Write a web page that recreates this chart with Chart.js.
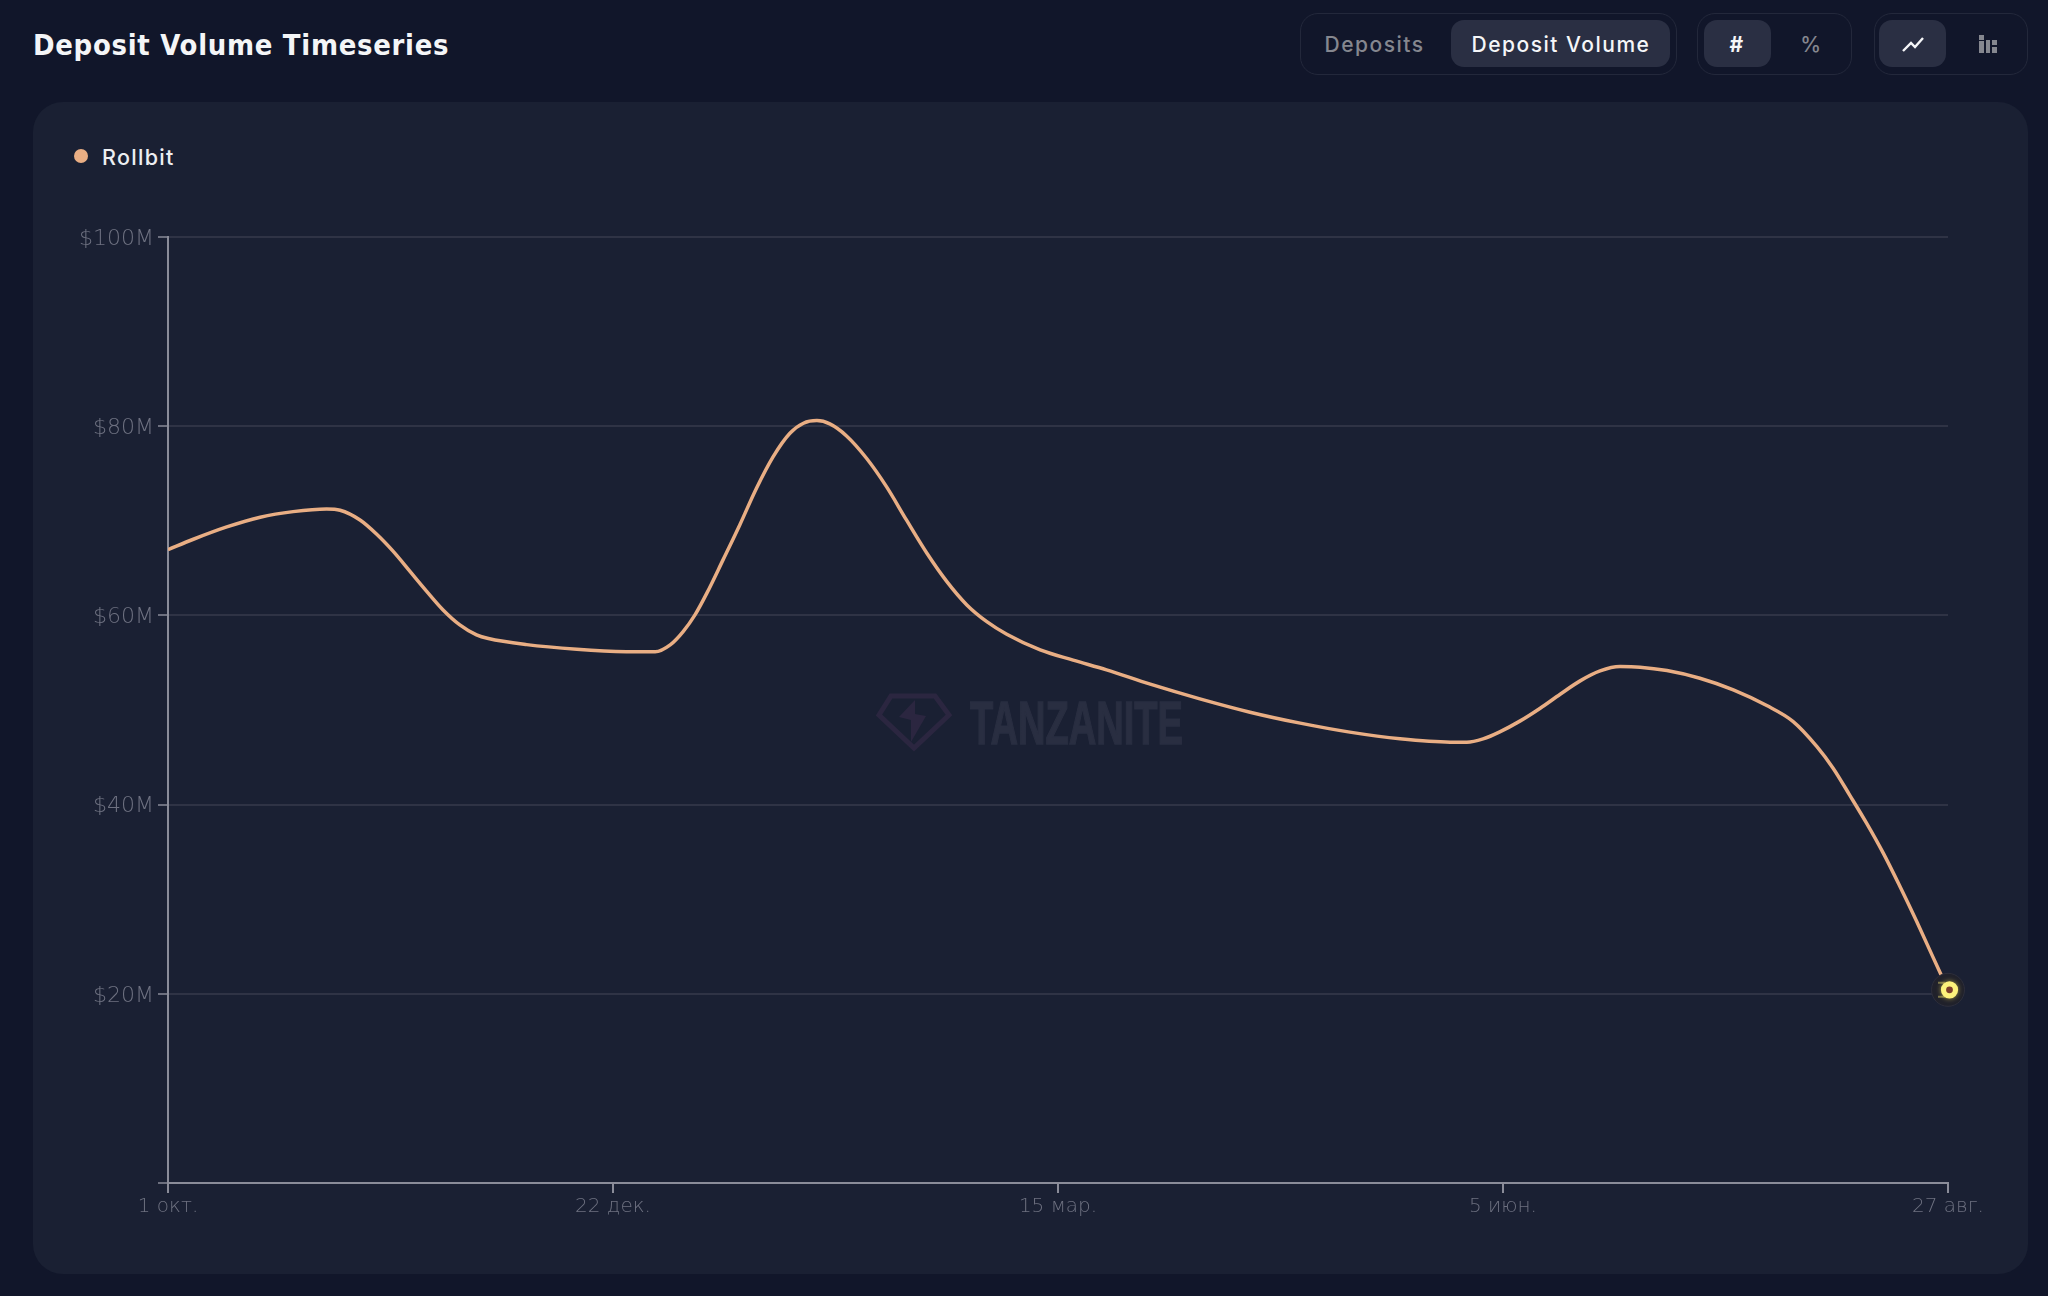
<!DOCTYPE html>
<html lang="ru">
<head>
<meta charset="utf-8">
<title>Deposit Volume Timeseries</title>
<script src="https://cdn.jsdelivr.net/npm/chart.js@4"></script>
<style>
html,body{margin:0;padding:0;background:#11162a;width:2048px;height:1296px;overflow:hidden;font-family:Inter,"Noto Sans",sans-serif;}
.abs{position:absolute;box-sizing:border-box;}
#title{left:33px;top:27px;font-size:27.5px;line-height:36px;font-weight:700;color:#f4f5f7;letter-spacing:.75px;white-space:nowrap;font-family:"DejaVu Sans";transform-origin:left center;transform:scaleX(.945);}
#card{left:33px;top:102px;width:1995px;height:1172px;background:#1a2033;border-radius:30px;}
.group{border:1.5px solid #23283b;border-radius:18px;top:13px;height:62px;}
.btn{top:20px;height:47px;border-radius:13px;background:#2a2f43;}
.txt{top:21px;height:47px;line-height:47px;font-size:21px;text-align:center;white-space:nowrap;color:#85878f;font-weight:500;letter-spacing:1.5px;transform:translateX(-50%);}
.on{color:#f5f6f8;}
#rollbit{left:102px;top:142px;line-height:30px;font-size:21.5px;font-weight:500;color:#eceef2;letter-spacing:1.3px;}
#dot{left:74px;top:149px;width:14px;height:14px;border-radius:50%;background:#e9ae84;}
#wm{left:970px;top:692px;font-family:"Liberation Sans Narrow","Liberation Sans";font-weight:700;font-size:62px;line-height:62px;color:#292e41;-webkit-text-stroke:1.5px #292e41;transform-origin:left top;white-space:nowrap;}
canvas{position:absolute;left:0;top:0;}
</style>
</head>
<body>
<div id="card" class="abs"></div>
<div id="title" class="abs">Deposit Volume Timeseries</div>

<div class="abs group" style="left:1300px;width:377px"></div>
<div class="abs btn" style="left:1451px;width:219px"></div>
<div class="abs txt" style="left:1374.5px">Deposits</div>
<div class="abs txt on" style="left:1561px">Deposit Volume</div>

<div class="abs group" style="left:1697px;width:155px"></div>
<div class="abs btn" style="left:1704px;width:67px"></div>
<div class="abs txt on" style="left:1737px;font-weight:700">#</div>
<div class="abs txt" style="left:1811.5px">%</div>

<div class="abs group" style="left:1874px;width:154px"></div>
<div class="abs btn" style="left:1879px;width:67px"></div>
<svg class="abs" style="left:1901px;top:35px" width="24" height="18" viewBox="0 0 24 18"><path d="M2 16 L10 8 L14 12 L22 3" fill="none" stroke="#f5f6f8" stroke-width="2.4"/></svg>
<svg class="abs" style="left:1978px;top:34px" width="20" height="20" viewBox="0 0 20 20" fill="#85878f"><rect x="1" y="1" width="5" height="5"/><rect x="1" y="7" width="5" height="12"/><rect x="8" y="6" width="4" height="13"/><rect x="14" y="6" width="5" height="5"/><rect x="14" y="13" width="5" height="6"/></svg>

<div id="dot" class="abs"></div>
<div id="rollbit" class="abs">Rollbit</div>

<svg class="abs" style="left:875px;top:692px" width="78" height="60" viewBox="0 0 78 60">
  <path d="M16 4 H60 L74 23 L39 56 L4 23 Z" fill="none" stroke="#2b2640" stroke-width="5"/>
  <path d="M40 8 L24 25 L36 28 L36 50 L51 24 L40 22 Z" fill="#2b2640"/>
</svg>
<div id="wm" class="abs">TANZANITE</div>

<canvas id="chart" width="2048" height="1296"></canvas>

<script>
const seriesName = "Rollbit";
const dayOffsets = [0,4.7,10.9,17.1,23.2,29.4,31.9,35.6,38.7,41.8,44.9,48.0,51.0,54.1,57.2,59.4,66.5,75.8,85.0,90.3,93.1,95.5,97.7,99.9,102.9,106.0,109.1,112.2,115.3,117.8,120.3,122.7,125.8,129.5,133.2,136.9,140.7,144.4,148.1,151.8,155.5,161.7,167.8,174.0,182.1,191.3,200.6,209.9,219.1,228.4,237.7,240.8,243.8,246.9,250.7,254.4,258.1,261.8,265.5,269.2,272.9,277.9,284.0,290.2,296.4,301.3,305.7,308.7,311.8,314.9,318.0,321.1,324.2,327.3,330];
const volumeMillions = [66.95,68.05,69.35,70.38,70.97,71.25,71.12,70.09,68.58,66.74,64.63,62.52,60.58,59.0,57.94,57.55,56.91,56.43,56.17,56.15,56.88,58.29,60.05,62.35,65.87,69.56,73.44,76.78,79.25,80.31,80.59,80.24,78.97,76.61,73.61,70.09,66.57,63.57,61.11,59.34,58.01,56.35,55.27,54.24,52.73,51.18,49.77,48.61,47.66,46.95,46.60,46.60,46.95,47.69,48.85,50.19,51.67,53.08,54.13,54.59,54.53,54.17,53.36,52.13,50.47,48.78,46.13,43.85,40.98,38.04,34.87,31.34,27.64,23.77,20.42];
const xTickDays = [0,82.5,165,247.5,330];
const xTickLabels = ["1 окт.","22 дек.","15 мар.","5 июн.","27 авг."];
const yTickValues = [0,20,40,60,80,100];
const yTickLabels = ["","$20M","$40M","$60M","$80M","$100M"];

const endMarker = {
  id: "endMarker",
  afterDatasetsDraw(chart) {
    const pts = chart.getDatasetMeta(0).data;
    const p = pts[pts.length - 1];
    const c = chart.ctx;
    c.save();
    c.beginPath(); c.arc(p.x, p.y, 16.5, 0, Math.PI * 2);
    c.fillStyle = "#20212b"; c.fill();
    c.lineWidth = 1; c.strokeStyle = "#2d2e3b"; c.stroke();
    c.strokeStyle = "rgba(255,240,120,.4)"; c.lineWidth = 2;
    c.beginPath(); c.moveTo(p.x - 10, p.y - 7); c.lineTo(p.x - 3, p.y - 7);
    c.moveTo(p.x - 10, p.y + 7); c.lineTo(p.x - 3, p.y + 7); c.stroke();
    c.shadowColor = "rgba(255,230,90,.6)"; c.shadowBlur = 5;
    c.beginPath(); c.arc(p.x + 1.5, p.y, 8.6, 0, Math.PI * 2);
    c.fillStyle = "#fdf27c"; c.fill();
    c.shadowBlur = 0;
    c.beginPath(); c.arc(p.x + 1.5, p.y, 3.4, 0, Math.PI * 2);
    c.fillStyle = "#7d3f2c"; c.fill();
    c.restore();
  }
};

new Chart(document.getElementById("chart"), {
  type: "line",
  data: {
    datasets: [{
      label: seriesName,
      data: dayOffsets.map((d, i) => ({ x: d, y: volumeMillions[i] })),
      borderColor: "#e9ae84",
      borderWidth: 3.5,
      pointRadius: 0,
      pointHoverRadius: 0,
      cubicInterpolationMode: "monotone",
      fill: false
    }]
  },
  plugins: [endMarker],
  options: {
    responsive: false,
    animation: false,
    devicePixelRatio: 1,
    layout: { padding: { top: 237, right: 100, left: 0, bottom: 0 } },
    plugins: { legend: { display: false }, tooltip: { enabled: false } },
    scales: {
      x: {
        type: "linear",
        min: xTickDays[0],
        max: xTickDays[xTickDays.length - 1],
        afterBuildTicks(s) { s.ticks = xTickDays.map(v => ({ value: v })); },
        afterFit(s) { s.height = 113; },
        border: { color: "#8a8c99", width: 2 },
        grid: { drawOnChartArea: false, color: "#8a8c99", tickColor: "#8a8c99", tickLength: 10, lineWidth: 2 },
        ticks: {
          autoSkip: false, maxRotation: 0, padding: 2, color: "#6e7181",
          font: { family: "DejaVu Sans", size: 20, weight: 200 },
          callback(v) { return xTickLabels[xTickDays.indexOf(v)]; }
        }
      },
      y: {
        min: 0,
        max: 100,
        afterBuildTicks(s) { s.ticks = yTickValues.map(v => ({ value: v })); },
        afterFit(s) { s.width = 168; },
        border: { color: "#8a8c99", width: 2 },
        grid: { color: "#2f3345", tickColor: "#6c6f7e", tickLength: 10, lineWidth: 2 },
        ticks: {
          padding: 4, labelOffset: 2, color: "#6e7181",
          font: { family: "DejaVu Sans", size: 22, weight: 200 },
          callback(v) { return yTickLabels[yTickValues.indexOf(v)]; }
        }
      }
    }
  }
});

const wm = document.getElementById("wm");
wm.style.transform = "scale(" + (213 / wm.getBoundingClientRect().width) + ",1)";
</script>
</body>
</html>
